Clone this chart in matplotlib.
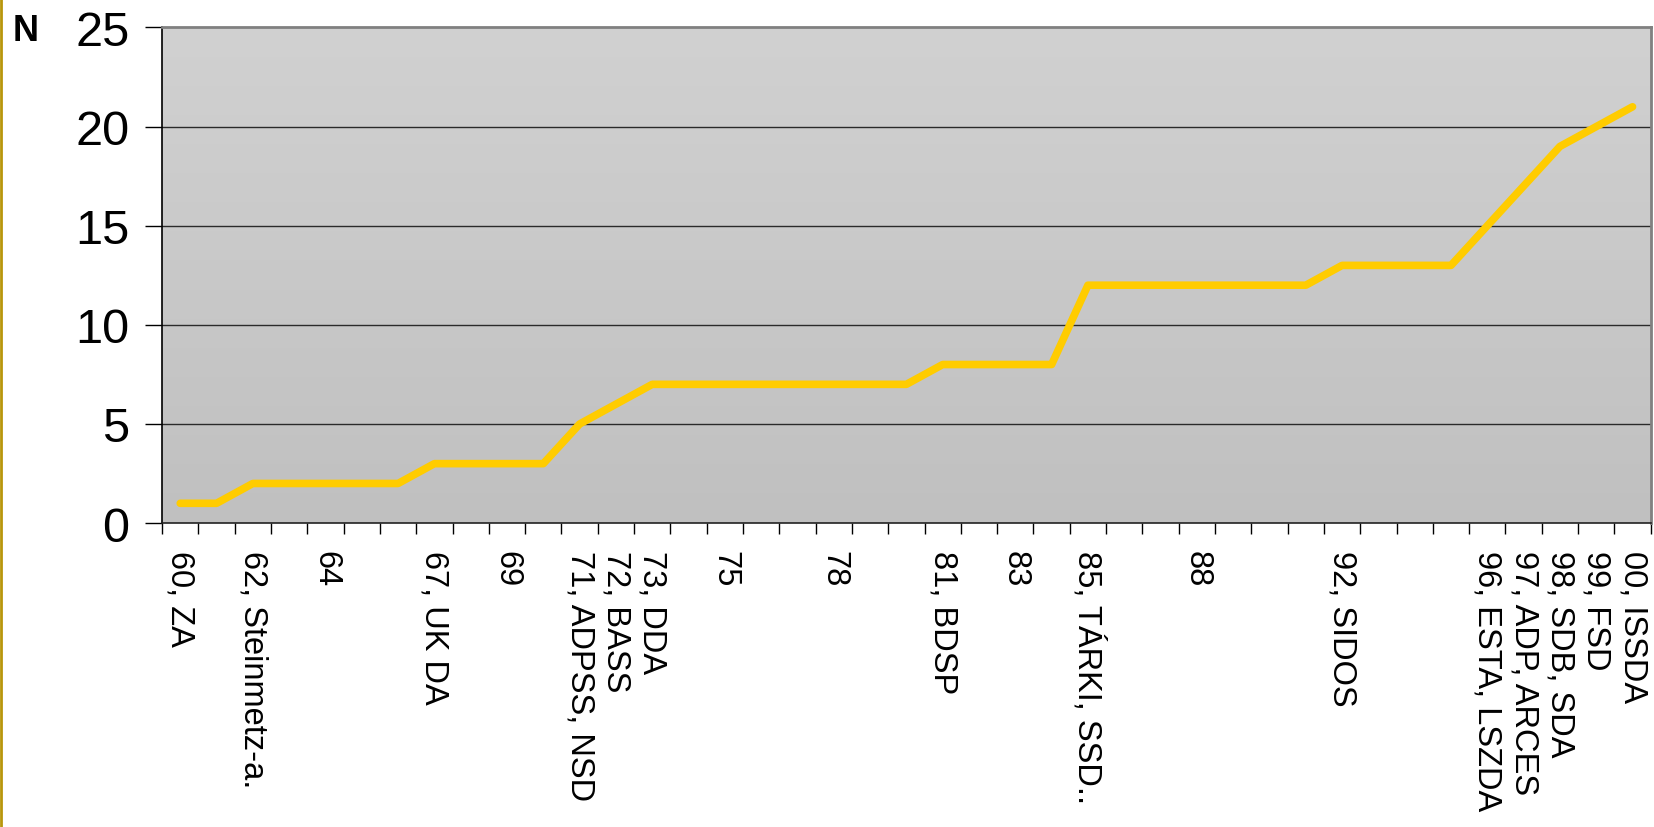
import numpy as np
import matplotlib
matplotlib.use('Agg')
import matplotlib.pyplot as plt
from matplotlib.colors import LinearSegmentedColormap
from matplotlib.lines import Line2D

plt.rcParams['font.family'] = ['Liberation Sans', 'DejaVu Sans']

# Archívumok száma évenként (1960-2000)
evek = ['60, ZA', '', '62, Steinmetz-a.', '', '64', '', '', '67, UK DA', '', '69',
        '', '71, ADPSS, NSD', '72, BASS', '73, DDA', '', '75', '', '', '78', '',
        '', '81, BDSP', '', '83', '', '85, TÁRKI, SSD..', '', '', '88', '',
        '', '', '92, SIDOS', '', '', '', '96, ESTA, LSZDA', '97, ADP, ARCES',
        '98, SDB, SDA', '99, FSD', '00, ISSDA']
darab = [1, 1, 2, 2, 2, 2, 2, 3, 3, 3,
         3, 5, 6, 7, 7, 7, 7, 7, 7, 7,
         7, 8, 8, 8, 8, 12, 12, 12, 12, 12,
         12, 12, 13, 13, 13, 13, 15, 17, 19, 20, 21]
y_ticks = [0, 5, 10, 15, 20, 25]

fig = plt.figure(figsize=(16.54, 8.28), dpi=100)
ax = fig.add_axes([0.098, 0.367, 0.9, 0.5986])

x = np.arange(len(darab))

# szürke átmenetes háttér
cmap = LinearSegmentedColormap.from_list('hatter', ['#d1d1d1', '#c0c0c0'])
grad = np.linspace(0, 1, 256).reshape(-1, 1)
ax.imshow(grad, extent=[0, 1, 0, 1], transform=ax.transAxes, aspect='auto',
          cmap=cmap, zorder=0)

for v in y_ticks[1:-1]:
    ax.axhline(v, color='#2a2a2a', lw=1.0, zorder=1)

ax.plot(x, darab, color='#ffcc00', lw=5.5, solid_capstyle='round',
        solid_joinstyle='round', zorder=3)

ax.set_xlim(-0.5, len(darab) - 0.5)
ax.set_ylim(0, 25)

ax.set_yticks(y_ticks)
ax.set_yticklabels([str(v) for v in y_ticks], fontsize=35)
ax.tick_params(axis='y', length=12.5, width=1.0, pad=11, color='black')

ax.set_xticks(x)
ax.set_xticklabels(evek, rotation=-90, fontsize=23.5)
ax.set_xticks(np.arange(-0.5, len(darab), 1), minor=True)
ax.tick_params(axis='x', which='major', length=0, pad=19)
ax.tick_params(axis='x', which='minor', length=8, width=1.0, color='black')
for lbl in ax.get_xticklabels():
    lbl.set_x(lbl.get_position()[0])

ax.spines['left'].set_color('black')
ax.spines['left'].set_linewidth(1.2)
ax.spines['bottom'].set_color('#222222')
ax.spines['bottom'].set_linewidth(1.2)
ax.spines['top'].set_color('#808080')
ax.spines['top'].set_linewidth(2.0)
ax.spines['right'].set_color('#808080')
ax.spines['right'].set_linewidth(2.0)

fig.text(0.0075, 0.962, 'N', fontsize=26, fontweight='bold', va='center', ha='left')

# bal oldali keretvonal
fig.add_artist(Line2D([0.0009, 0.0009], [0, 1], transform=fig.transFigure,
                      color='#b8960c', lw=2))

fig.savefig('out.png', dpi=100)
